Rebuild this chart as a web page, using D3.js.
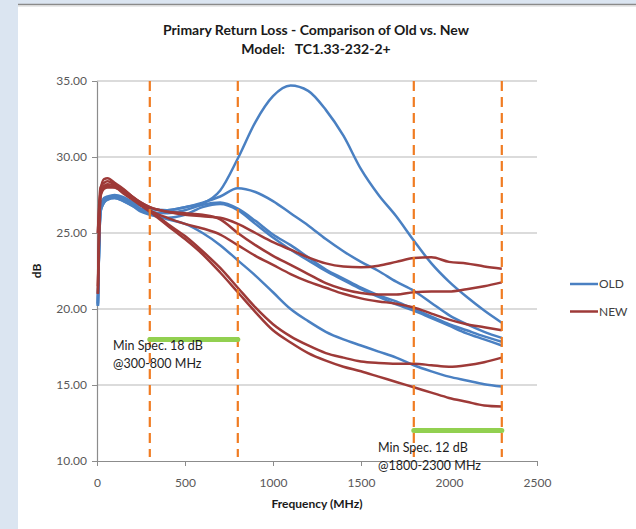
<!DOCTYPE html>
<html><head><meta charset="utf-8">
<script src="https://cdn.jsdelivr.net/npm/d3@7"></script>
<style>
body{margin:0;background:#dbe5f1;}
svg{display:block;font-family:Lato,'Open Sans',sans-serif;}
</style>
</head><body>
<svg id="c" width="636" height="529"></svg>
<script>
// ---------- data ----------
const freqs = [5,20,40,60,100,150,200,250,300,400,500,600,700,800,900,1000,1100,1200,1300,1400,1500,1600,1700,1800,1900,2000,2100,2200,2300];
const old1 = [20.3,26.6,27.2,27.35,27.45,27.3,27.0,26.8,26.6,26.5,26.7,26.95,27.8,29.9,32.3,34.0,34.7,34.35,33.1,31.4,29.2,27.5,26.1,24.5,23.0,21.8,20.8,19.9,19.1];
const old2 = [20.4,26.7,27.3,27.4,27.5,27.35,27.05,26.8,26.6,26.5,26.7,27.0,27.4,27.95,27.7,27.1,26.3,25.5,24.6,23.8,23.1,22.5,21.8,21.2,20.4,19.6,19.0,18.5,18.1];
const old3 = [20.2,26.5,27.1,27.3,27.4,27.2,26.9,26.6,26.4,26.3,26.5,26.85,27.0,26.6,25.8,24.9,24.2,23.4,22.6,22.0,21.4,20.9,20.5,20.0,19.5,19.0,18.6,18.2,17.85];
const old4 = [20.3,26.4,27.0,27.2,27.3,27.1,26.8,26.4,26.2,26.0,26.2,26.7,26.9,26.5,25.6,24.7,23.9,23.2,22.5,21.9,21.3,20.8,20.3,19.9,19.4,18.9,18.4,18.0,17.6];
const old5 = [20.2,26.4,27.0,27.2,27.3,27.1,26.8,26.5,26.3,25.9,25.6,25.0,24.2,23.2,22.2,21.1,20.0,19.2,18.5,18.0,17.6,17.2,16.8,16.3,15.9,15.55,15.3,15.05,14.9];
const new1 = [21.0,27.8,28.55,28.6,28.3,27.9,27.4,27.0,26.7,26.4,26.2,26.1,26.0,25.6,25.0,24.4,23.9,23.4,23.0,22.8,22.75,22.85,23.1,23.35,23.4,23.1,23.0,22.8,22.65];
const new2 = [25.0,28.0,28.3,28.4,28.2,27.85,27.4,27.0,26.7,26.4,26.3,26.2,25.9,25.0,24.2,23.5,22.9,22.3,21.7,21.3,21.05,20.95,20.95,21.1,21.15,21.15,21.3,21.5,21.75];
const new3 = [21.0,27.5,28.0,28.1,28.0,27.7,27.3,26.9,26.5,26.0,25.6,25.3,24.9,24.2,23.5,22.9,22.3,21.8,21.4,21.0,20.7,20.5,20.35,20.1,19.7,19.3,19.0,18.8,18.6];
const new4 = [25.0,27.6,28.1,28.2,28.1,27.7,27.3,26.9,26.5,25.6,24.8,23.8,22.7,21.4,20.1,19.0,18.2,17.6,17.1,16.8,16.55,16.45,16.4,16.4,16.3,16.2,16.3,16.5,16.8];
const new5 = [21.5,27.4,27.9,28.0,28.0,27.6,27.2,26.8,26.4,25.5,24.6,23.6,22.4,21.1,19.8,18.6,17.8,17.1,16.6,16.2,15.9,15.55,15.2,14.85,14.5,14.15,13.9,13.65,13.58];
const oldSeries = [old1,old2,old3,old4,old5];
const newSeries = [new1,new2,new3,new4,new5];
const yTicks = [10,15,20,25,30,35];
const xTicks = [0,500,1000,1500,2000,2500];
const markerFreqs = [300,800,1800,2300];
const specLow = [300,1800];
const specHigh = [800,2300];
const specDb = [18,12];
const specLine1 = ["Min Spec. 18 dB","Min Spec. 12 dB"];
const specLine2 = ["@300-800 MHz","@1800-2300 MHz"];
const legendLabels = ["OLD","NEW"];
const titleLines = ["Primary Return Loss - Comparison of Old vs. New","Model:   TC1.33-232-2+"];

// ---------- drawing ----------
const colOld = "#4a80c2", colNew = "#9e3a38";
const svg = d3.select("#c");
svg.append("rect").attr("x",18).attr("y",5).attr("width",618).attr("height",524).attr("fill","#fff");
svg.append("line").attr("x1",18).attr("x2",636).attr("y1",4.5).attr("y2",4.5).attr("stroke","#8a8a8a").attr("stroke-width",1.5);
svg.append("line").attr("x1",18).attr("x2",636).attr("y1",6).attr("y2",6).attr("stroke","#d4d4d4").attr("stroke-width",1);

const x = d3.scaleLinear().domain([0,2500]).range([97,537]);
const y = d3.scaleLinear().domain([10,35]).range([461,81]);

// gridlines
svg.append("g").selectAll("line").data(yTicks.filter(d=>d>10)).join("line")
  .attr("x1",x(0)).attr("x2",x(2500)).attr("y1",d=>y(d)).attr("y2",d=>y(d))
  .attr("stroke","#cfcfcf").attr("stroke-width",1.5);

const yAxis = d3.axisLeft(y).tickValues(yTicks).tickFormat(d3.format(".2f")).tickSize(5).tickSizeOuter(0).tickPadding(5);
const gy = svg.append("g").attr("transform",`translate(${x(0)},0)`).call(yAxis)
  .attr("font-family",null).attr("font-size",null);
gy.select(".domain").attr("stroke","#8c8c8c").attr("stroke-width",1.2);
gy.selectAll(".tick line").attr("stroke","#8c8c8c");
gy.selectAll("text").attr("fill","#595959").attr("font-size",12);

const xAxis = d3.axisBottom(x).tickValues(xTicks).tickFormat(d3.format("d")).tickSize(5).tickSizeOuter(0).tickPadding(12);
const gx = svg.append("g").attr("transform",`translate(0,${y(10)})`).call(xAxis)
  .attr("font-family",null).attr("font-size",null);
gx.select(".domain").attr("stroke","#8c8c8c").attr("stroke-width",1.2);
gx.selectAll(".tick line").attr("stroke","#8c8c8c");
gx.selectAll("text").attr("fill","#595959").attr("font-size",12);

// series
const line = d3.line().x((d,i)=>x(freqs[i])).y(d=>y(d)).curve(d3.curveMonotoneX);
svg.append("g").selectAll("path").data(oldSeries).join("path")
  .attr("d",line).attr("fill","none").attr("stroke",colOld).attr("stroke-width",2.5).attr("stroke-linejoin","round");
svg.append("g").selectAll("path").data(newSeries).join("path")
  .attr("d",line).attr("fill","none").attr("stroke",colNew).attr("stroke-width",2.5).attr("stroke-linejoin","round");

// orange dashed markers
svg.append("g").selectAll("line").data(markerFreqs).join("line")
  .attr("x1",d=>x(d)).attr("x2",d=>x(d)).attr("y1",y(35)).attr("y2",y(10)-4)
  .attr("stroke","#f07c22").attr("stroke-width",2.2).attr("stroke-dasharray","10,6");

// green spec bars
svg.append("g").selectAll("line").data(specDb).join("line")
  .attr("x1",(d,i)=>x(specLow[i])).attr("x2",(d,i)=>x(specHigh[i]))
  .attr("y1",d=>y(d)).attr("y2",d=>y(d))
  .attr("stroke","#92d050").attr("stroke-width",5).attr("stroke-linecap","round");

// spec labels
const specTextPos = [[113,350],[378,452]];
specDb.forEach((d,i)=>{
  const t = svg.append("text").attr("font-size",12.5).attr("fill","#1e1e1e");
  t.append("tspan").attr("x",specTextPos[i][0]).attr("y",specTextPos[i][1]).text(specLine1[i]);
  t.append("tspan").attr("x",specTextPos[i][0]).attr("y",specTextPos[i][1]+18).text(specLine2[i]);
});

// title
svg.append("g").selectAll("text").data(titleLines).join("text")
  .attr("x",316).attr("y",(d,i)=>35+i*19).attr("text-anchor","middle")
  .attr("font-size",14).attr("font-weight","bold").attr("fill","#1a1a1a")
  .style("white-space","pre").text(d=>d);

// axis titles
svg.append("text").attr("x",317).attr("y",508).attr("text-anchor","middle")
  .attr("font-size",12).attr("font-weight","bold").attr("fill","#1a1a1a").text("Frequency (MHz)");
svg.append("text").attr("transform","translate(41,271) rotate(-90)").attr("text-anchor","middle")
  .attr("font-size",12).attr("font-weight","bold").attr("fill","#1a1a1a").text("dB");

// legend
const lg = svg.append("g").selectAll("g").data(legendLabels).join("g")
  .attr("transform",(d,i)=>`translate(570,${284+i*27.5})`);
lg.append("line").attr("x1",0).attr("x2",28).attr("stroke",(d,i)=>i?colNew:colOld).attr("stroke-width",2.5);
lg.append("text").attr("x",29).attr("dy","0.35em").attr("font-size",12).attr("fill","#404040").text(d=>d);
</script>
</body></html>
